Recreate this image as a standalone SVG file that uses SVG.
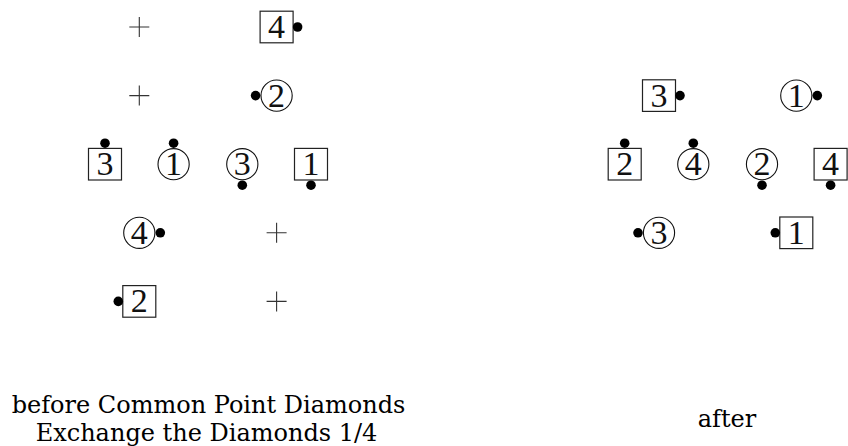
<svg xmlns="http://www.w3.org/2000/svg" width="848" height="446" viewBox="0 0 848 446">
<style>
.bx{fill:none;stroke:#222;stroke-width:1.2}
.cr{fill:none;stroke:#111;stroke-width:1.1}
.dt{fill:#000}
.pl{stroke:#333;stroke-width:1.1;fill:none}
.dg{font-family:"Liberation Serif",serif;font-size:34px;fill:#111;text-anchor:middle}
.cap{font-family:"DejaVu Serif",serif;font-size:24px;fill:#000;text-anchor:middle}
</style>
<defs>
<rect id="box" class="bx" x="-16.5" y="-15.8" width="33" height="31.6"/>
<circle id="circ" class="cr" r="15.6"/>
<circle id="dot" class="dt" r="4.8"/>
<path id="plus" class="pl" d="M-10 0H10M0 -10V10"/>
</defs>
<g id="connectors"></g>
<g id="before">
<g id="plus-a" transform="translate(139.3,27)"><use href="#plus"/></g>
<g id="plus-b" transform="translate(139.3,95.6)"><use href="#plus"/></g>
<g id="plus-c" transform="translate(276.6,232.8)"><use href="#plus"/></g>
<g id="plus-d" transform="translate(276.6,301.4)"><use href="#plus"/></g>
<g id="b-box4" transform="translate(276.6,27)"><use href="#box"/><text class="dg" y="11">4</text><use href="#dot" x="21"/></g>
<g id="b-circ2" transform="translate(276.6,95.6)"><use href="#circ"/><text class="dg" y="11">2</text><use href="#dot" x="-21"/></g>
<g id="b-box3" transform="translate(105,164.2)"><use href="#box"/><text class="dg" y="11">3</text><use href="#dot" y="-21"/></g>
<g id="b-circ1" transform="translate(173.6,164.2)"><use href="#circ"/><text class="dg" y="11">1</text><use href="#dot" y="-21"/></g>
<g id="b-circ3" transform="translate(242.3,164.2)"><use href="#circ"/><text class="dg" y="11">3</text><use href="#dot" y="21"/></g>
<g id="b-box1" transform="translate(311,164.2)"><use href="#box"/><text class="dg" y="11">1</text><use href="#dot" y="21"/></g>
<g id="b-circ4" transform="translate(139.3,232.8)"><use href="#circ"/><text class="dg" y="11">4</text><use href="#dot" x="21"/></g>
<g id="b-box2" transform="translate(139.3,301.4)"><use href="#box"/><text class="dg" y="11">2</text><use href="#dot" x="-21"/></g>
</g>
<g id="after">
<g id="a-box3" transform="translate(659,95.6)"><use href="#box"/><text class="dg" y="11">3</text><use href="#dot" x="21"/></g>
<g id="a-circ1" transform="translate(796.3,95.6)"><use href="#circ"/><text class="dg" y="11">1</text><use href="#dot" x="21"/></g>
<g id="a-box2" transform="translate(624.7,164.2)"><use href="#box"/><text class="dg" y="11">2</text><use href="#dot" y="-21"/></g>
<g id="a-circ4" transform="translate(693.3,164.2)"><use href="#circ"/><text class="dg" y="11">4</text><use href="#dot" y="-21"/></g>
<g id="a-circ2" transform="translate(762,164.2)"><use href="#circ"/><text class="dg" y="11">2</text><use href="#dot" y="21"/></g>
<g id="a-box4" transform="translate(830.6,164.2)"><use href="#box"/><text class="dg" y="11">4</text><use href="#dot" y="21"/></g>
<g id="a-circ3" transform="translate(659,232.8)"><use href="#circ"/><text class="dg" y="11">3</text><use href="#dot" x="-21"/></g>
<g id="a-box1" transform="translate(796.3,232.8)"><use href="#box"/><text class="dg" y="11">1</text><use href="#dot" x="-21"/></g>
</g>
<g id="captions">
<text class="cap" x="208.5" y="413">before Common Point Diamonds</text>
<text class="cap" x="206.5" y="441">Exchange the Diamonds 1/4</text>
<text class="cap" x="727" y="427">after</text>
</g>
</svg>
